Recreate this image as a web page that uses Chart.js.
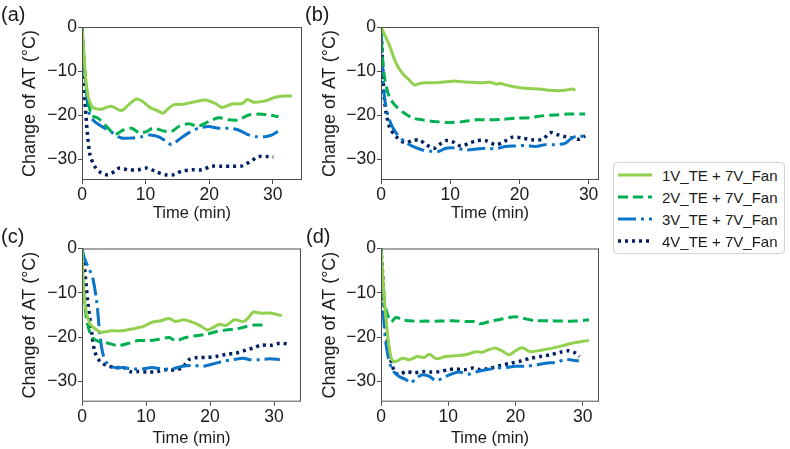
<!DOCTYPE html>
<html>
<head>
<meta charset="utf-8">
<script src="https://cdn.jsdelivr.net/npm/chart.js@4.4.0/dist/chart.umd.min.js"></script>
<style>
  body { margin: 0; background: #fff; }
  #wrap { position: relative; width: 790px; height: 449px; overflow: hidden; font-family: "Liberation Sans", Arial, sans-serif; color: #1a1a1a; }
  #wrap canvas { position: absolute; }
  .tag { position: absolute; font-size: 20px; line-height: 20px; }
  #legend { position: absolute; left: 613px; top: 162px; width: 172px; height: 92px; border: 1px solid #d4d4d4; border-radius: 4px; box-sizing: border-box; padding-top: 1px; }
  #legend .row { display: flex; align-items: center; height: 22px; font-size: 15px; }
  #legend svg { margin-left: 4px; margin-right: 10px; }
</style>
</head>
<body>
<div id="wrap">
  <canvas id="pa" width="310" height="228" style="left:0;top:0"></canvas>
  <canvas id="pb" width="305" height="228" style="left:300px;top:0"></canvas>
  <canvas id="pc" width="310" height="228" style="left:0;top:221px"></canvas>
  <canvas id="pd" width="305" height="228" style="left:300px;top:221px"></canvas>
  <div class="tag" style="left:1px;top:4px">(a)</div>
  <div class="tag" style="left:305px;top:4px">(b)</div>
  <div class="tag" style="left:1px;top:226px">(c)</div>
  <div class="tag" style="left:306px;top:226px">(d)</div>
  <div id="legend"></div>
</div>
<script>
// series names
const seriesNames = ["1V_TE + 7V_Fan", "2V_TE + 7V_Fan", "3V_TE + 7V_Fan", "4V_TE + 7V_Fan"];
const xTicks = [0, 10, 20, 30];
const yTicks = [0, -10, -20, -30];

// (a) [time (min), change of AT]
const a1 = [[0,0],[0.3,-6],[0.6,-12],[1,-16],[1.2,-16.8],[1.7,-18.2],[3,-18.6],[4.6,-17.9],[6.2,-18.9],[7.3,-17.6],[8.6,-16.3],[9.6,-16.9],[10.7,-18.2],[11.7,-18.8],[12.8,-19.5],[13.3,-18.8],[14.4,-17.6],[16.2,-17.4],[17.8,-16.9],[19.4,-16.5],[21,-17.3],[22,-18.2],[23.6,-17.4],[25.2,-17.3],[26,-16.4],[27,-17],[28.8,-16.7],[30.4,-15.9],[31.7,-15.6],[33,-15.6]];
const a2 = [[0,0],[0.3,-6.5],[0.7,-14],[1.5,-19.9],[2.5,-20.6],[3.8,-22.4],[5.2,-24.2],[6.5,-23.3],[7.8,-22.9],[9.1,-24],[10.2,-23.6],[11.2,-22.9],[12.8,-23.5],[14.1,-23.6],[15.2,-22.5],[16.7,-21.9],[18.3,-22.4],[19.9,-21.4],[21.5,-20.5],[23.1,-21],[24.6,-21],[26.2,-19.9],[27.8,-19.7],[29.4,-19.9],[30.9,-20.3]];
const a3 = [[0,0],[0.3,-7],[0.7,-15],[1.2,-19.9],[2,-21.4],[3.6,-22.9],[4.9,-24],[6.2,-25.1],[7.8,-25.1],[9.4,-24.8],[10.7,-24.4],[12,-24.8],[13.3,-25.9],[14.1,-26.6],[15.2,-25.5],[16.7,-24],[18.3,-22.9],[19.9,-22.5],[21.5,-22.9],[23.1,-22.9],[24.6,-23.3],[26.2,-24.4],[27.3,-24.8],[28.8,-24.8],[29.9,-24.4],[30.8,-23.6]];
const a4 = [[0,0],[0.16,-6],[0.5,-17.3],[1.2,-28.5],[2,-31.5],[3,-33],[4.1,-33.4],[5.2,-32.6],[5.9,-31.9],[7.3,-32.3],[8.8,-32.3],[10.2,-31.9],[11.5,-32.6],[13.1,-33.4],[14.4,-33.4],[15.7,-32.6],[17.3,-32.3],[18.8,-32.3],[20.4,-31.5],[22,-31.5],[23.6,-31.5],[25.2,-31.4],[26.5,-30.4],[27.8,-29.3],[29.1,-29.3],[30.1,-29.4]];

// (b)
const b1 = [[0,0],[1.2,-4.1],[2.2,-8.3],[3.1,-10.5],[4.1,-12],[4.8,-13.1],[5.5,-12.8],[6.5,-12.6],[7.9,-12.6],[9.4,-12.4],[10.6,-12.2],[11.8,-12.4],[13.2,-12.5],[14.6,-12.6],[15.8,-12.5],[16.6,-12.9],[17.3,-12.8],[18.5,-13.3],[19.9,-13.7],[21.4,-13.9],[22.8,-14],[24.2,-14.3],[25.7,-14.4],[26.6,-14.3],[27.6,-14],[28.1,-14.3]];
const b2 = [[0,0],[0.15,-5.3],[0.5,-11.3],[1.2,-15.8],[2.2,-18],[3.4,-19.5],[4.6,-20.6],[6,-21],[7.9,-21.4],[9.8,-21.6],[11.8,-21.4],[13.7,-21],[15.6,-21],[17.5,-20.9],[19.4,-20.6],[21.4,-20.5],[23.3,-20.1],[25.2,-19.9],[27.1,-19.7],[29.5,-19.7]];
const b3 = [[0,0],[0.15,-6],[0.5,-15.8],[1.2,-21],[2.2,-24],[3.4,-25.9],[4.6,-27],[6,-27.8],[7.4,-28.1],[8.4,-28.1],[9.4,-27.4],[10.8,-27.4],[12.2,-27.8],[13.7,-27.6],[15.1,-27.4],[16.6,-27.5],[18,-27],[19.4,-26.9],[20.9,-26.8],[22.3,-27],[23.8,-26.6],[25.2,-26.6],[26.6,-26.3],[27.6,-25.1],[28.6,-24.6],[29.8,-25.1]];
const b4 = [[0,0],[0.15,-5.3],[0.5,-16.5],[1.2,-22.5],[2.2,-24.8],[3.4,-26.1],[4.6,-25.7],[5.5,-25.5],[6.5,-26.6],[7.7,-27.4],[8.4,-26.6],[9.4,-25.7],[10.3,-25.9],[11.5,-26.9],[12.7,-26.3],[13.9,-25.7],[15.1,-25.7],[16.6,-26.6],[17.8,-25.9],[19,-24.9],[20.4,-25.1],[21.8,-25.5],[23.3,-25.4],[24.5,-23.9],[25.4,-24.3],[26.6,-24.8],[27.6,-25.1],[28.6,-25.4],[29.5,-24.6]];

// (c)
const c1 = [[0,0],[0.1,-4.5],[0.4,-12],[1.2,-16.9],[2.3,-18.4],[3,-18.9],[4.6,-18.6],[6.2,-18.6],[7.8,-18.2],[9.6,-17.6],[10.9,-16.7],[12.3,-16.3],[13.6,-15.8],[14.6,-16.5],[15.9,-16.1],[17,-16.5],[18.3,-17.3],[19.6,-18.4],[20.4,-17.9],[21.5,-17.1],[22.5,-17.4],[23.8,-16.1],[25.2,-16.5],[26,-15.6],[26.7,-14.4],[28,-14.6],[29.6,-14.6],[31.2,-15.2]];
const c2 = [[0,0],[0.15,-7.5],[0.7,-15.8],[1.5,-19.9],[2.5,-20.9],[4.1,-21.4],[5.7,-21.9],[7.3,-21.4],[8.8,-20.8],[10.4,-20.8],[12,-20.5],[13.6,-20.1],[14.6,-20.8],[16.2,-20.1],[17.8,-19.7],[19.4,-19.4],[20.9,-18.8],[22.5,-18.4],[24.1,-18.2],[25.7,-17.6],[27,-17.3],[28.6,-17.3]];
const c3 = [[0,0],[0.4,-2.3],[1.2,-4.9],[1.7,-6.8],[2.3,-12],[2.8,-19.5],[3.3,-24],[4.1,-26.3],[5.2,-26.9],[6.5,-26.9],[7.8,-27.2],[9.4,-27.2],[10.9,-26.9],[12.5,-27.2],[14.1,-27.2],[15.7,-26.6],[17.3,-26.4],[18.8,-26.6],[20.4,-26.1],[22,-25.5],[23.6,-25.1],[25.2,-24.8],[26.2,-25.1],[27.8,-25.1],[29.4,-24.9],[30.9,-25.1]];
const c4 = [[0,0],[0.4,-4.5],[0.9,-12],[1.5,-18.8],[2,-23.3],[2.8,-25.5],[3.8,-26.4],[5.2,-26.9],[6.5,-26.9],[7.5,-27.8],[8.8,-27.8],[10.2,-27.9],[11.7,-27.8],[13.1,-27.4],[14.6,-27.4],[15.7,-26.9],[16.7,-25.1],[18.1,-24.6],[19.4,-24.6],[20.9,-24.4],[22.5,-23.9],[24.1,-23.6],[25.7,-22.9],[26.7,-22.5],[28,-21.8],[29.4,-21.9],[30.9,-21.4],[32.5,-21.6]];

// (d)
const d1 = [[0,0],[0.25,-6],[0.6,-13.5],[1.1,-21],[1.6,-25.1],[2.2,-25.5],[3.2,-24.8],[4.2,-25.1],[5.4,-24.4],[6.4,-24.6],[7.2,-23.9],[8.2,-24.9],[9.6,-24.4],[11.1,-24.2],[12.6,-24],[14.1,-23.3],[15.1,-23.4],[16.8,-22.5],[18,-23.1],[19,-24],[20,-23.1],[21,-22.4],[22.2,-23.3],[24,-22.9],[25.5,-22.5],[26.9,-22],[28.4,-21.4],[29.9,-21],[30.9,-20.8]];
const d2 = [[0,0],[0.25,-7.5],[0.7,-13.5],[1.5,-16.5],[2.2,-15.6],[3.2,-16.1],[4.7,-16.4],[6.7,-16.4],[8.7,-16.4],[10.6,-16.3],[12.6,-16.5],[14.1,-16.5],[14.8,-17],[16.1,-16.5],[17.5,-16.1],[19,-15.6],[20,-15.4],[21.5,-15.9],[22.9,-16.3],[25,-16.3],[26.9,-16.4],[28.9,-16.4],[30.9,-16.1]];
const d3 = [[0,0],[0.15,-7.5],[0.5,-18],[1,-24],[1.7,-27.4],[2.7,-28.9],[3.7,-29.6],[4.4,-30.4],[5.2,-29.3],[6.2,-28.5],[7.2,-28.9],[8.2,-29.9],[9.1,-29.3],[10.4,-28.4],[11.6,-27.9],[12.9,-28.4],[14.1,-27.9],[15.6,-27.4],[17.1,-27],[18.5,-26.9],[20,-26.6],[21.5,-26.6],[23,-26.3],[24.5,-25.9],[26,-25.7],[27.4,-25.1],[29.4,-25.4]];
const d4 = [[0,0],[0.25,-6],[0.6,-15.8],[1.2,-23.3],[2,-27.8],[2.7,-28.5],[3.7,-27.8],[4.9,-28.1],[6.2,-27.8],[7.4,-27.9],[8.7,-27.8],[9.9,-27.4],[11.1,-27.2],[12.4,-27.4],[13.6,-27],[14.8,-27.4],[16.3,-27],[17.8,-26.4],[19.3,-25.9],[20.8,-25.4],[22.2,-24.8],[23.7,-24.4],[25.2,-24],[26.7,-23.4],[27.9,-23.1],[28.9,-23.6],[29.5,-24.4]];

const colors = ["#92d050", "#00b050", "#0a74c8", "#002060"];
const dashes = [[], [10, 5], [18, 5, 3, 5], [3, 4]];
const widths = [3, 3, 3, 3.5];
const fontFam = "'Liberation Sans', Arial, sans-serif";
const textCol = "#1a1a1a";
const axisCol = "#4d4d4d";

function minusFmt(v) {
	return v < 0 ? "\u2212" + Math.abs(v) : String(v);
}

// box around plot area like matplotlib spines
const framePlugin = {
	id: "frame",
	afterDraw(chart) {
		const a = chart.chartArea;
		const ctx = chart.ctx;
		ctx.save();
		ctx.strokeStyle = axisCol;
		ctx.lineWidth = 1;
		ctx.strokeRect(a.left + 0.5, a.top + 0.5, a.right - a.left - 1, a.bottom - a.top - 1);
		ctx.restore();
	},
};

function makePanel(id, series, xMax, box) {
	let ctx = document.getElementById(id).getContext("2d");
	return new Chart(ctx, {
		type: "line",
		data: {
			datasets: series.map((s, i) => ({
				label: seriesNames[i],
				data: s.map((p) => ({ x: p[0], y: p[1] })),
				borderColor: colors[i],
				borderDash: dashes[i],
				borderWidth: widths[i],
				pointRadius: 0,
				tension: 0.3,
				fill: false,
			})),
		},
		options: {
			responsive: false,
			animation: false,
			layout: {
				padding: { top: box.top, right: box.right, left: 0, bottom: 0 },
			},
			plugins: {
				legend: { display: false },
				tooltip: { enabled: false },
			},
			scales: {
				x: {
					type: "linear",
					min: 0,
					max: xMax,
					afterBuildTicks: (s) => {
						s.ticks = xTicks.map((v) => ({ value: v }));
					},
					afterFit: (s) => {
						s.height = box.xh;
					},
					grid: { drawOnChartArea: false, drawTicks: true, tickLength: 4, color: axisCol },
					border: { display: false },
					ticks: {
						padding: 1,
						color: textCol,
						font: { family: fontFam, size: 17.5 },
						callback: minusFmt,
					},
					title: {
						display: true,
						text: "Time (min)",
						color: textCol,
						font: { family: fontFam, size: 16.5 },
						padding: { top: 0, bottom: box.tb },
					},
				},
				y: {
					min: -34.6,
					max: 0,
					afterBuildTicks: (s) => {
						s.ticks = yTicks.map((v) => ({ value: v }));
					},
					afterFit: (s) => {
						s.width = box.yw;
					},
					grid: { drawOnChartArea: false, drawTicks: true, tickLength: 4, color: axisCol },
					border: { display: false },
					ticks: {
						padding: 1,
						color: textCol,
						font: { family: fontFam, size: 17.5 },
						callback: minusFmt,
					},
					title: {
						display: true,
						text: "Change of AT (°C)",
						color: textCol,
						font: { family: fontFam, size: 18 },
						padding: { top: 19, bottom: 0 },
					},
				},
			},
		},
		plugins: [framePlugin],
	});
}

makePanel("pa", [a1, a2, a3, a4], 34.6, { top: 27, right: 8, xh: 48, yw: 82, tb: 5 });
makePanel("pb", [b1, b2, b3, b4], 31.5, { top: 27, right: 6, xh: 48, yw: 81, tb: 5 });
makePanel("pc", [c1, c2, c3, c4], 34.2, { top: 27.5, right: 9, xh: 47.3, yw: 82, tb: 1 });
makePanel("pd", [d1, d2, d3, d4], 32.4, { top: 27.5, right: 6, xh: 47.3, yw: 81, tb: 1 });

// legend
let legend = document.getElementById("legend");
seriesNames.forEach((name, i) => {
	let row = document.createElement("div");
	row.className = "row";
	let dash = dashes[i].length ? ' stroke-dasharray="' + dashes[i].join(" ") + '"' : "";
	row.innerHTML =
		'<svg width="34" height="8"><line x1="0" y1="4" x2="34" y2="4" stroke="' + colors[i] +
		'" stroke-width="' + widths[i] + '"' + dash + "/></svg><span>" + name + "</span>";
	legend.appendChild(row);
});
</script>
</body>
</html>
